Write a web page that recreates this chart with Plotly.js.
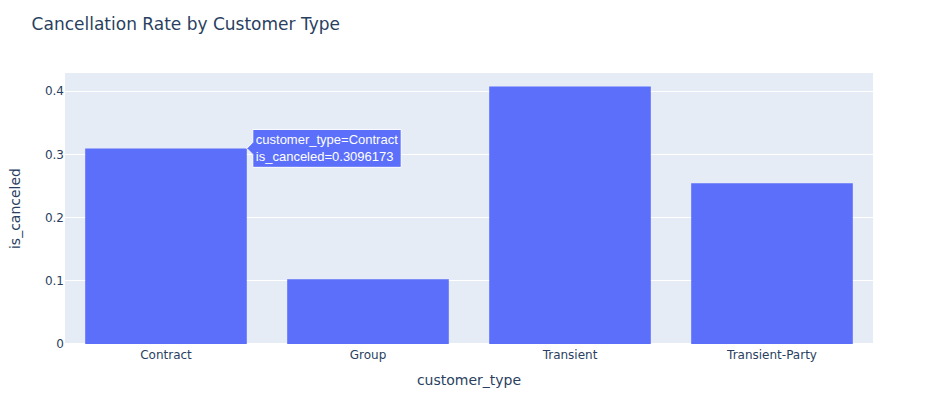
<!DOCTYPE html>
<html>
<head>
<meta charset="utf-8">
<script src="https://cdn.plot.ly/plotly-3.0.1.min.js"></script>
<style>html,body{margin:0;padding:0;}</style>
</head>
<body>
<div id="chart" style="width:930px;height:401px;"></div>
<script>
const customerTypes = ["Contract", "Group", "Transient", "Transient-Party"];
const cancelRates = [0.3096173, 0.1023, 0.4075, 0.2543];

const trace = {
  type: "bar",
  x: customerTypes,
  y: cancelRates,
  marker: {color: "#5b6ffa"},
  hovertemplate: "customer_type=%{x}<br>is_canceled=%{y}<extra></extra>",
  hoverlabel: {font: {family: "Arial", size: 13}},
  name: ""
};

const layout = {
  width: 930,
  height: 401,
  title: {text: "Cancellation Rate by Customer Type", x: 0.034, xanchor: "left", y: 0.955, font: {size: 17, color: "#2a3f5f"}},
  font: {family: 'Verdana, "DejaVu Sans", sans-serif', size: 12, color: "#2a3f5f"},
  paper_bgcolor: "white",
  plot_bgcolor: "#e5ecf6",
  margin: {l: 65, r: 57, t: 73, b: 57},
  hovermode: "closest",
  hoverlabel: {font: {family: "Arial", size: 13}},
  xaxis: {title: {text: "customer_type", font: {size: 14}, standoff: 13}, showgrid: false, linecolor: "white", ticks: ""},
  yaxis: {title: {text: "is_canceled", font: {size: 14}, standoff: 21}, gridcolor: "white", zerolinecolor: "white", zerolinewidth: 2, ticks: ""},
  showlegend: false,
  bargap: 0.2
};

Plotly.newPlot("chart", [trace], layout, {displayModeBar: false}).then(function(gd){
  try { Plotly.Fx.hover(gd, [{curveNumber: 0, pointNumber: 0}]); } catch (e) {}
});
</script>
</body>
</html>
